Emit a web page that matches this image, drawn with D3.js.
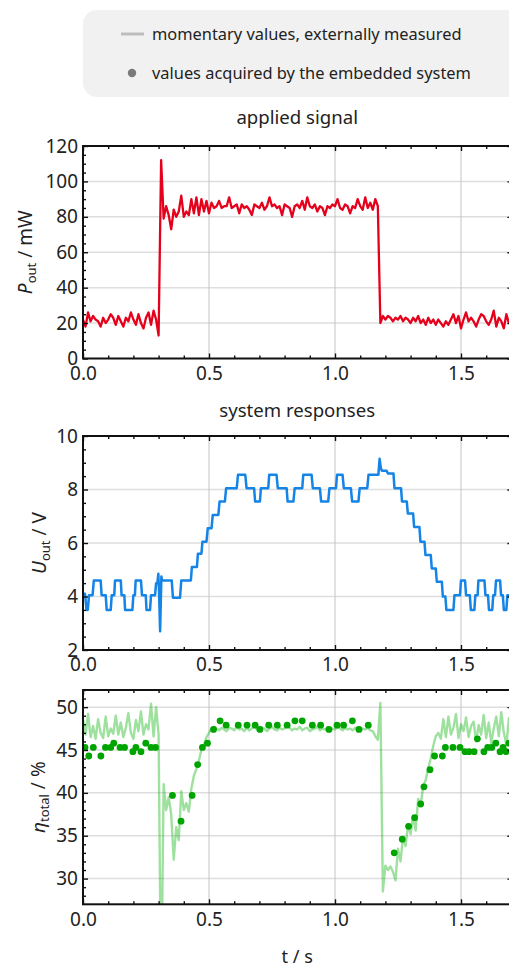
<!DOCTYPE html>
<html><head><meta charset="utf-8">
<script src="https://cdn.jsdelivr.net/npm/d3@7"></script>
<style>body{margin:0;background:#fff}</style>
</head><body><svg id="c" width="509" height="969"></svg>
<script>
// ---- data ----
const timeStep = 0.01;               // sampling step of the measured traces, s
const xTickValues = [0, 0.5, 1.0, 1.5];

// externally measured output power, mW (one value per 10 ms from 0 s)
const pOut = [
  22,18,26,21,24,22,21,18,23,20, 22,25,23,19,24,21,18,23,21,26,
  22,19,25,20,17,23,26,19,27,22, 13,112,79,86,81,73,84,80,83,92,
  80,83,81,90,82,91,81,90,83,89, 82,88,85,86,89,85,86,86,91,85,
  86,87,82,87,85,86,84,81,87,86, 85,88,84,86,91,86,87,85,86,81,
  87,86,85,80,86,87,85,89,84,91, 86,85,87,83,86,85,81,86,85,87,
  86,90,85,84,87,86,82,86,85,90, 86,84,91,85,88,84,90,86,20,24,
  22,24,23,21,23,22,24,21,23,22, 20,23,21,24,20,22,19,23,20,22,
  19,22,20,18,21,19,22,25,20,24, 17,22,26,21,23,21,18,22,25,24,
  21,19,22,27,18,23,21,17,25,20, 22
];

// output voltage, V: plateaus (start s, end s, level V)
const uStart = [0.000,0.014,0.024,0.043,0.074,0.094,0.114,0.127,0.153,0.167,0.200,0.209,0.234,0.252,0.270,0.290,0.299,0.302,0.306,0.311,
  0.314,0.357,0.390,0.432,0.456,0.474,0.495,0.515,0.542,0.568,0.615,0.649,0.683,0.706,0.739,0.773,0.812,0.840,0.874,0.912,
  0.945,0.978,1.008,1.035,1.068,1.098,1.133,1.177,1.182,1.186,1.210,1.236,1.266,1.289,1.314,1.339,1.359,1.384,1.404,1.428,
  1.442,1.474,1.500,1.520,1.539,1.557,1.569,1.597,1.611,1.628,1.639,1.659,1.670,1.684];
const uEnd = [0.008,0.019,0.038,0.070,0.090,0.110,0.124,0.150,0.164,0.196,0.206,0.230,0.249,0.266,0.286,0.295,0.299,0.302,0.306,0.311,
  0.352,0.385,0.428,0.452,0.470,0.490,0.510,0.537,0.563,0.610,0.644,0.679,0.702,0.735,0.768,0.808,0.835,0.870,0.907,0.940,
  0.973,1.004,1.030,1.063,1.093,1.128,1.172,1.177,1.182,1.205,1.232,1.262,1.285,1.310,1.335,1.355,1.380,1.400,1.424,1.438,
  1.470,1.496,1.516,1.535,1.553,1.566,1.593,1.607,1.624,1.635,1.655,1.666,1.680,1.710];
const uLevel = [4.1,3.5,4.05,4.6,4.05,3.5,4.05,4.6,4.05,3.5,4.05,4.6,4.05,3.5,4.05,4.5,4.85,4.1,2.7,4.75,
  4.6,3.95,4.6,5.1,5.6,6.05,6.55,7.05,7.55,8.05,8.55,8.05,7.55,8.05,8.55,8.05,7.55,8.05,8.55,8.05,
  7.55,8.05,8.55,8.05,7.55,8.05,8.55,9.15,8.8,8.7,8.6,8.05,7.55,7.1,6.6,6.05,5.55,5.05,4.55,4.0,
  3.5,4.05,4.6,4.05,3.5,4.05,4.6,4.05,3.5,4.05,4.6,4.05,3.5,4.05];

// externally measured total efficiency, % (one value per 10 ms from 0 s)
const etaMeasured = [
  48.5,46.8,49.2,46.5,47.8,46.3,48.6,47.0,46.4,48.9, 46.6,47.5,46.9,49.0,46.8,48.2,46.5,47.6,49.3,47.0,
  46.3,48.5,47.2,49.5,46.8,48.0,47.4,50.4,46.6,50.0, 46.8,15.0,41.0,38.0,39.5,37.5,32.2,36.0,34.5,40.2,
  38.0,38.8,37.8,40.5,42.0,42.8,43.8,45.0,45.6,46.5, 47.0,47.5,47.7,47.5,47.3,47.6,47.4,47.2,47.6,47.5,
  47.3,47.7,47.4,47.5,47.2,47.6,47.3,47.5,47.8,47.4, 47.3,47.6,47.5,47.2,47.5,47.7,47.4,47.3,47.6,47.4,
  47.5,47.9,47.6,47.3,47.5,47.4,47.7,47.3,47.5,47.6, 47.2,47.4,47.5,47.7,47.3,47.5,47.4,47.6,47.2,47.5,
  47.4,47.7,47.5,47.3,47.6,47.4,47.5,47.3,47.6,47.4, 47.2,47.5,47.4,47.6,47.3,47.2,46.6,46.2,50.5,28.5,
  31.5,31.0,31.4,30.8,29.8,33.5,32.0,34.8,33.8,36.3, 35.2,37.3,35.6,39.3,38.6,40.8,41.5,42.9,44.0,45.5,
  46.6,47.0,46.3,48.6,46.5,48.9,46.8,47.6,49.2,46.4, 48.0,47.2,48.8,46.5,47.8,48.3,46.0,47.9,46.8,49.1,
  46.4,48.2,45.8,47.5,48.9,46.6,49.4,47.0,45.6,48.7, 47.5
];

// efficiency values acquired by the embedded system
const etaSampleT = [0.008,0.023,0.041,0.071,0.089,0.11,0.122,0.147,0.165,0.198,0.21,0.23,0.249,0.27,0.288,
  0.355,0.389,0.433,0.455,0.474,0.494,0.518,0.544,0.568,0.616,0.651,0.683,0.702,0.737,0.771,0.81,0.841,0.870,
  0.91,0.943,0.976,1.008,1.034,1.069,1.095,1.132,
  1.235,1.267,1.292,1.316,1.34,1.353,1.377,1.395,1.426,1.438,1.468,1.496,1.516,1.532,1.552,1.565,1.591,1.606,
  1.622,1.638,1.655,1.667,1.679,1.69];
const etaSampleV = [45.3,44.3,45.3,44.3,45.3,45.3,45.8,45.3,45.3,44.8,45.3,44.8,45.8,45.3,45.3,
  39.7,36.7,39.7,43.3,45.3,45.8,47.4,48.4,47.9,47.9,47.9,47.9,47.4,47.9,47.9,47.9,48.4,48.4,
  47.9,47.9,47.4,47.9,47.9,48.4,47.4,47.9,
  33.0,34.6,36.1,37.1,38.7,40.7,42.7,44.3,44.3,45.3,45.3,45.3,44.8,44.8,44.8,46.3,44.8,45.3,
  45.3,45.8,44.8,45.3,44.8,45.8];

const legendItems = ["momentary values, externally measured", "values acquired by the embedded system"];

// ---- drawing ----
const FONT = "'Noto Sans', 'Open Sans', sans-serif";
const svg = d3.select("#c").style("font-family", FONT);
const X0 = 83, X1 = 511.4;
const x = d3.scaleLinear().domain([0, 1.7]).range([X0, X1]);

// legend
const lg = svg.append("g");
lg.append("rect").attr("x", 83).attr("y", 10).attr("width", 460).attr("height", 87)
  .attr("rx", 14).attr("fill", "#f1f1f1");
lg.append("line").attr("x1", 121).attr("x2", 144).attr("y1", 34).attr("y2", 34)
  .attr("stroke", "#bdbdbd").attr("stroke-width", 3);
lg.append("circle").attr("cx", 132).attr("cy", 73).attr("r", 4.2).attr("fill", "#7a7a7a");
lg.selectAll("text.leg").data(legendItems).join("text").attr("class", "leg")
  .attr("x", 152).attr("y", (d, i) => [34, 73][i]).attr("dy", "0.35em")
  .attr("font-size", 16.4).attr("fill", "#222").text(d => d);

function title(txt, yy) {
  svg.append("text").attr("x", (X0 + X1) / 2).attr("y", yy).attr("text-anchor", "middle")
    .attr("font-size", 18.6).attr("fill", "#222").text(txt);
}
title("applied signal", 124);
title("system responses", 417);

function panel(cfg) {
  const { yDomain, yRange, yMajor, yMinor, id } = cfg;
  const y = d3.scaleLinear().domain(yDomain).range(yRange);
  const g = svg.append("g");
  const top = yRange[1], bot = yRange[0];
  // grid
  g.selectAll("line.hg").data(yMajor.filter(v => v > yDomain[0] && v < yDomain[1])).join("line")
    .attr("x1", X0).attr("x2", X1).attr("y1", d => y(d)).attr("y2", d => y(d))
    .attr("stroke", "#dedede").attr("stroke-width", 1.5);
  g.selectAll("line.vg").data(xTickValues.filter(v => v > 0)).join("line")
    .attr("y1", top).attr("y2", bot).attr("x1", d => x(d)).attr("x2", d => x(d))
    .attr("stroke", "#c4c4c4").attr("stroke-width", 1);
  // clip
  svg.append("clipPath").attr("id", id).append("rect")
    .attr("x", X0).attr("y", top).attr("width", X1 - X0).attr("height", bot - top);
  const plot = g.append("g").attr("clip-path", `url(#${id})`);
  cfg.draw(plot, y);
  // axes
  const styleAxis = a => { a.select(".domain").remove(); a.selectAll("line").attr("stroke", "#111").attr("stroke-width", 1.4);
    a.selectAll("text").attr("font-size", 19).attr("fill", "#222").attr("font-family", FONT); };
  const xMinor = d3.range(0, 17).map(i => i / 10).filter(v => !xTickValues.some(m => Math.abs(m - v) < 1e-9));
  g.append("g").attr("transform", `translate(0,${bot})`)
    .call(d3.axisBottom(x).tickValues(xTickValues).tickSize(-5).tickPadding(8).tickFormat(d3.format(".1f"))).call(styleAxis);
  g.append("g").attr("transform", `translate(0,${bot})`)
    .call(d3.axisBottom(x).tickValues(xMinor).tickSize(-3).tickFormat("")).call(styleAxis);
  g.append("g").attr("transform", `translate(0,${top})`)
    .call(d3.axisTop(x).tickValues(xTickValues).tickSize(-5).tickFormat("")).call(styleAxis);
  g.append("g").attr("transform", `translate(0,${top})`)
    .call(d3.axisTop(x).tickValues(xMinor).tickSize(-3).tickFormat("")).call(styleAxis);
  g.append("g").attr("transform", `translate(${X0},0)`)
    .call(d3.axisLeft(y).tickValues(yMajor).tickSize(-5).tickPadding(5)).call(styleAxis);
  g.append("g").attr("transform", `translate(${X0},0)`)
    .call(d3.axisLeft(y).tickValues(yMinor).tickSize(-3).tickFormat("")).call(styleAxis);
  g.append("g").attr("transform", `translate(${X1},0)`)
    .call(d3.axisRight(y).tickValues(yMajor).tickSize(-4).tickFormat("")).call(styleAxis);
  g.append("rect").attr("x", X0).attr("y", top).attr("width", X1 - X0).attr("height", bot - top)
    .attr("fill", "none").attr("stroke", "#111").attr("stroke-width", 2);
  // y label
  const t = g.append("text").attr("transform", `translate(${cfg.labelX},${(top + bot) / 2}) rotate(-90)`)
    .attr("text-anchor", "middle").attr("font-size", 19).attr("fill", "#222");
  t.append("tspan").attr("font-style", "italic").text(cfg.sym);
  t.append("tspan").attr("font-size", 13).attr("dy", 4).text(cfg.sub);
  t.append("tspan").attr("dy", -4).text(" / " + cfg.unit);
  return y;
}

const lineGen = (y) => d3.line().x(d => x(d[0])).y(d => y(d[1]));
const onGrid = arr => arr.map((v, i) => [i * timeStep, v]);

panel({
  id: "cp1", yDomain: [0, 120], yRange: [358.5, 146],
  yMajor: d3.range(0, 121, 20), yMinor: d3.range(0, 121, 5).filter(v => v % 20),
  labelX: 32, sym: "P", sub: "out", unit: "mW",
  draw: (p, y) => p.append("path").datum(onGrid(pOut)).attr("d", lineGen(y))
    .attr("fill", "none").attr("stroke", "#e5001c").attr("stroke-width", 2.3).attr("stroke-linejoin", "round")
});

const uPts = [];
uLevel.forEach((v, i) => { uPts.push([uStart[i], v]); if (uEnd[i] > uStart[i]) uPts.push([uEnd[i], v]); });
panel({
  id: "cp2", yDomain: [2, 10], yRange: [650, 436],
  yMajor: d3.range(2, 10.1, 2), yMinor: d3.range(2, 10.01, 0.5).filter(v => v % 2),
  labelX: 46, sym: "U", sub: "out", unit: "V",
  draw: (p, y) => p.append("path").datum(uPts).attr("d", lineGen(y))
    .attr("fill", "none").attr("stroke", "#1484e6").attr("stroke-width", 2.5).attr("stroke-linejoin", "round")
});

panel({
  id: "cp3", yDomain: [27, 52], yRange: [904.3, 690],
  yMajor: [30, 35, 40, 45, 50], yMinor: d3.range(28, 52.01, 1).filter(v => v % 5),
  labelX: 45, sym: "η", sub: "total", unit: "%",
  draw: (p, y) => {
    p.append("path").datum(onGrid(etaMeasured)).attr("d", lineGen(y))
      .attr("fill", "none").attr("stroke", "#00b000").attr("stroke-opacity", 0.38)
      .attr("stroke-width", 2.4).attr("stroke-linejoin", "round");
    p.selectAll("circle").data(etaSampleT.map((t, i) => [t, etaSampleV[i]])).join("circle")
      .attr("cx", d => x(d[0])).attr("cy", d => y(d[1])).attr("r", 3.4).attr("fill", "#00a400");
  }
});

svg.append("text").attr("x", (X0 + X1) / 2).attr("y", 963).attr("text-anchor", "middle")
  .attr("font-size", 18).attr("fill", "#222").text("t / s");
</script></body></html>
